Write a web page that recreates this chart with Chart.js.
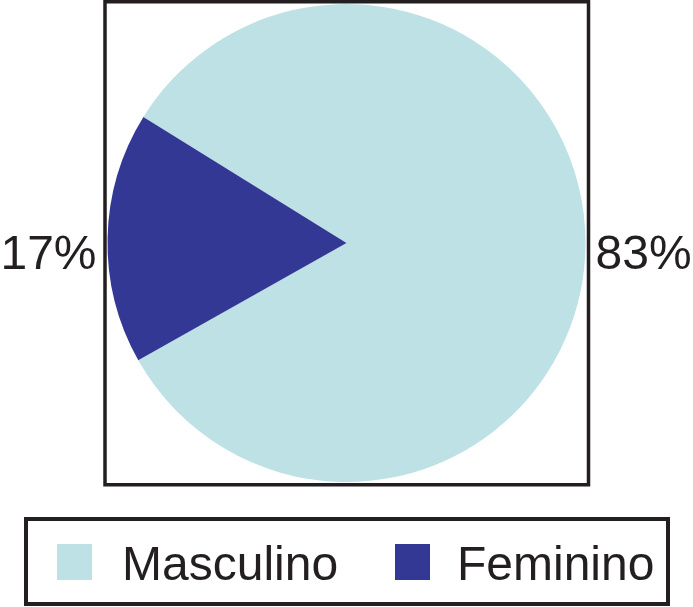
<!DOCTYPE html>
<html>
<head>
<meta charset="utf-8">
<script src="https://cdn.jsdelivr.net/npm/chart.js@4"></script>
<style>
  html, body { margin: 0; padding: 0; background: #ffffff; }
  #wrap { position: relative; width: 693px; height: 607px; }
</style>
</head>
<body>
<div id="wrap"><canvas id="c" width="693" height="607"></canvas></div>
<script>
const categories = ["Masculino", "Feminino"];
const values = [83, 17];
const percentLabels = ["83%", "17%"];
const colors = ["#bde1e5", "#343895"];

const FONT = "'Liberation Sans', Arial, Helvetica, sans-serif";

const decorPlugin = {
  id: 'decor',
  afterDraw(chart) {
    const ctx = chart.ctx;
    const meta = chart.getDatasetMeta(0);
    const arc0 = meta.data[0];
    const cx = arc0.x, cy = arc0.y, r = arc0.outerRadius;
    ctx.save();
    // frame around the pie
    ctx.strokeStyle = '#231f20';
    ctx.lineWidth = 3.5;
    ctx.strokeRect(cx - r - 2.5, 1.75, 2 * r + 5.5, 483);
    // percentage labels outside the frame, on the side of each slice
    ctx.fillStyle = '#231f20';
    ctx.font = '48px ' + FONT;
    ctx.textBaseline = 'alphabetic';
    meta.data.forEach((arc, i) => {
      const mid = (arc.startAngle + arc.endAngle) / 2;
      const right = Math.cos(mid) >= 0;
      if (right) {
        ctx.textAlign = 'left';
        ctx.fillText(percentLabels[i], cx + r + 10, 269);
      } else {
        ctx.textAlign = 'right';
        ctx.fillText(percentLabels[i], cx - r - 11, 269);
      }
    });
    // legend box
    ctx.lineWidth = 4;
    ctx.strokeRect(26, 519, 642, 85);
    const items = [
      { sx: 57, tx: 122 },
      { sx: 395, tx: 457 }
    ];
    ctx.textAlign = 'left';
    categories.forEach((name, i) => {
      ctx.fillStyle = colors[i];
      ctx.fillRect(items[i].sx, 544, 35, 36);
      ctx.fillStyle = '#231f20';
      ctx.fillText(name, items[i].tx, 580);
    });
    ctx.restore();
  }
};

new Chart(document.getElementById('c'), {
  type: 'pie',
  data: {
    labels: categories,
    datasets: [{
      data: values,
      backgroundColor: colors,
      borderWidth: 0
    }]
  },
  options: {
    responsive: false,
    animation: false,
    rotation: -58.2,
    layout: { padding: { left: 107.5, right: 107.5, top: 4, bottom: 125 } },
    plugins: {
      legend: { display: false },
      tooltip: { enabled: false }
    }
  },
  plugins: [decorPlugin]
});
</script>
</body>
</html>
